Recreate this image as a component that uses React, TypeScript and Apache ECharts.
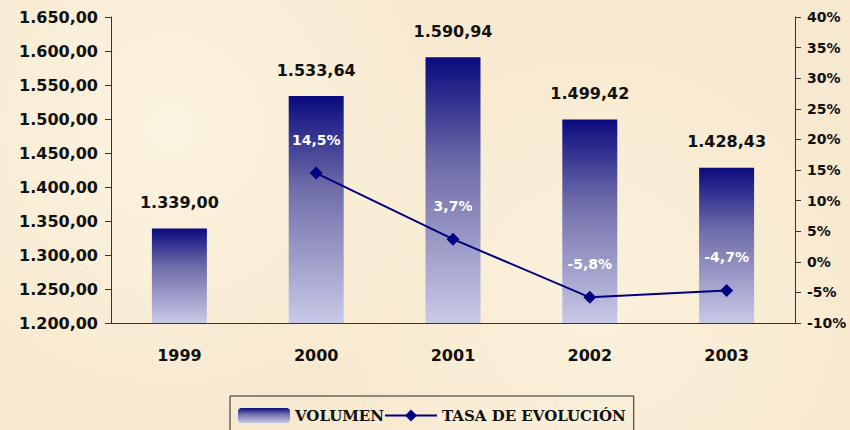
import React, { useEffect, useRef } from "react";
import * as echarts from "echarts";

const categories = ["1999", "2000", "2001", "2002", "2003"];
const volumen = [1339.0, 1533.64, 1590.94, 1499.42, 1428.43];
const tasa: (number | null)[] = [null, 14.5, 3.7, -5.8, -4.7];
const seriesNames = ["VOLUMEN", "TASA DE EVOLUCIÓN"];

const fmtNum = (v: number, d: number) => {
  const [i, f] = v.toFixed(d).split(".");
  const ii = i.replace(/\B(?=(\d{3})+(?!\d))/g, ".");
  return f ? `${ii},${f}` : ii;
};

const FONT = "DejaVu Sans";

export default function App() {
  const ref = useRef<HTMLDivElement>(null);
  useEffect(() => {
    document.body.style.margin = "0";
    const chart = echarts.init(ref.current!, null, { renderer: "svg" });
    const barGrad = new echarts.graphic.LinearGradient(0, 0, 0, 1, [
      { offset: 0, color: "#0a0a7e" },
      { offset: 0.4, color: "#6e6ca8" },
      { offset: 1, color: "#c9c9e7" },
    ]);
    chart.setOption({
      animation: false,
      backgroundColor: "transparent",
      grid: { left: 111, right: 55, top: 17, bottom: 107, outerBoundsMode: "none", containLabel: false },
      legend: {
        left: 230,
        top: 396,
        itemGap: 0,
        itemWidth: 52,
        itemHeight: 15,
        borderColor: "#222",
        borderWidth: 1,
        borderRadius: 0,
        padding: [12, 8, 12, 8],
        textStyle: { fontFamily: "DejaVu Serif", fontWeight: "bold", fontSize: 15, color: "#111" },
        data: seriesNames,
      },
      xAxis: {
        type: "category",
        data: categories,
        axisLine: { onZero: false, lineStyle: { color: "#333", width: 1 } },
        axisTick: { length: 5, lineStyle: { color: "#333" } },
        axisLabel: { margin: 24, fontFamily: FONT, fontWeight: "bold", fontSize: 16, color: "#111" },
      },
      yAxis: [
        {
          type: "value",
          min: 1200,
          max: 1650,
          interval: 50,
          splitLine: { show: false },
          axisLine: { show: true, lineStyle: { color: "#333" } },
          axisTick: { show: true, length: 6, lineStyle: { color: "#333" } },
          axisLabel: {
            margin: 13,
            fontFamily: FONT,
            fontWeight: "bold",
            fontSize: 16,
            color: "#111",
            formatter: (v: number) => fmtNum(v, 2),
          },
        },
        {
          type: "value",
          min: -10,
          max: 40,
          interval: 5,
          splitLine: { show: false },
          axisLine: { show: true, lineStyle: { color: "#333" } },
          axisTick: { show: true, length: 6, lineStyle: { color: "#333" } },
          axisLabel: {
            margin: 12,
            fontFamily: FONT,
            fontWeight: "bold",
            fontSize: 14,
            color: "#111",
            formatter: (v: number) => `${v}%`,
          },
        },
      ],
      series: [
        {
          name: seriesNames[0],
          type: "bar",
          data: volumen,
          barWidth: 55,
          itemStyle: { color: barGrad },
          label: {
            show: true,
            position: "top",
            distance: 18,
            fontFamily: FONT,
            fontWeight: "bold",
            fontSize: 16,
            color: "#111",
            formatter: (p: any) => fmtNum(p.value, 2),
          },
        },
        {
          name: seriesNames[1],
          type: "line",
          yAxisIndex: 1,
          data: tasa,
          connectNulls: false,
          symbol: "diamond",
          symbolSize: 13,
          lineStyle: { color: "#000080", width: 2 },
          itemStyle: { color: "#000080" },
          label: {
            show: true,
            position: "top",
            distance: 20,
            fontFamily: FONT,
            fontWeight: "bold",
            fontSize: 14,
            color: "#ffffff",
            formatter: (p: any) => `${p.value.toFixed(1).replace(".", ",")}%`,
          },
        },
      ],
    });
    return () => chart.dispose();
  }, []);
  return (
    <div
      ref={ref}
      style={{
        width: 850,
        height: 430,
        background:
          "radial-gradient(circle at 20% 30%, rgba(255,250,235,0.6), transparent 40%), radial-gradient(circle at 70% 70%, rgba(255,248,230,0.5), transparent 45%), #f7e9cf",
      }}
    />
  );
}
